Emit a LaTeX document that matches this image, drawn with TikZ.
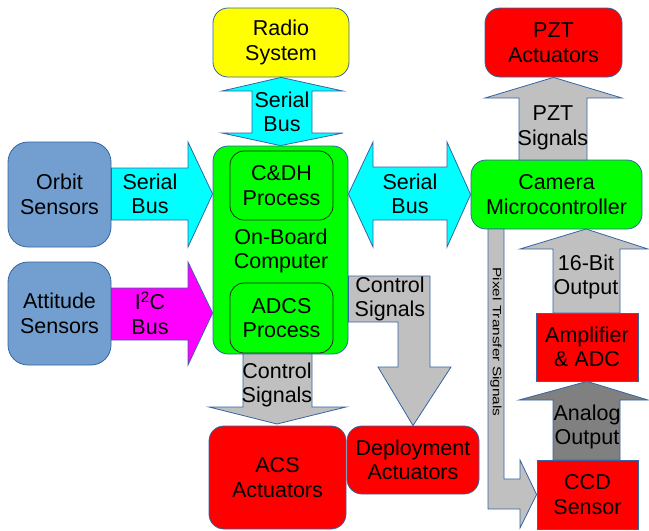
\documentclass[tikz,border=0pt]{standalone}
\usepackage{fontspec}
\setmainfont{Liberation Sans}
\definecolor{skyblue}{HTML}{729FCF}
\definecolor{edgeblue}{HTML}{3465A4}
\definecolor{busgreen}{HTML}{00FF00}
\definecolor{buscyan}{HTML}{00FFFF}
\definecolor{busmagenta}{HTML}{FF00FF}
\definecolor{boxred}{HTML}{FF0000}
\definecolor{boxyellow}{HTML}{FFFF00}
\definecolor{lightgray}{HTML}{C0C0C0}
\definecolor{darkgray}{HTML}{808080}
\begin{document}
\begin{tikzpicture}[x=1pt,y=-1pt,
    every node/.style={font=\fontsize{21.5}{24.5}\selectfont, align=center, inner sep=0pt},
    blk/.style={draw=edgeblue, line width=0.8pt, rounded corners=15pt},
    sharpblk/.style={draw=edgeblue, line width=0.8pt},
    inner/.style={draw=black!85, line width=0.8pt, rounded corners=14pt, fill=busgreen},
    flow/.style={draw=edgeblue, line width=0.8pt, line join=miter}]
  \useasboundingbox (0,0) rectangle (649,531);

  \node[blk, fill=boxyellow, minimum width=136pt, minimum height=69pt] (radio) at (281,42.5) {Radio\\System};
  \node[blk, fill=boxred, minimum width=137pt, minimum height=69pt] (pzt) at (553.5,42.5) {PZT\\Actuators};
  \node[blk, fill=skyblue, rounded corners=20pt, minimum width=103pt, minimum height=105pt] (orbit) at (59.5,194.5) {Orbit\\Sensors};
  \node[blk, fill=skyblue, rounded corners=20pt, minimum width=103pt, minimum height=103pt] (attitude) at (59.5,313.5) {Attitude\\Sensors};
  \node[blk, fill=busgreen, minimum width=135pt, minimum height=208pt] (obc) at (280.5,250) {};
  \node[inner, minimum width=103pt, minimum height=69pt] (cdh) at (281.5,185.5) {C\&DH\\Process};
  \node[inner, minimum width=103pt, minimum height=70pt] (adcs) at (281.5,318) {ADCS\\Process};
  \node (obctext) at (281,251) {On-Board\\Computer};
  \node[blk, fill=busgreen, minimum width=171pt, minimum height=69pt] (camera) at (556.5,194.5) {Camera\\Microcontroller};
  \node[sharpblk, fill=boxred, minimum width=102pt, minimum height=68pt] (amp) at (587,347) {Amplifier\\\& ADC};
  \node[sharpblk, fill=boxred, minimum width=101pt, minimum height=69pt] (ccd) at (587.5,494.5) {CCD\\Sensor};
  \node[blk, fill=boxred, minimum width=137pt, minimum height=103pt] (acs) at (277.5,477.5) {ACS\\Actuators};
  \node[blk, fill=boxred, minimum width=132pt, minimum height=68pt] (deploy) at (413,460) {Deployment\\Actuators};

  % buses into the on-board computer
  \draw[flow, fill=buscyan] (orbit.east |- 0,168) -- (188,168) -- (188,142) -- (obc.west |- 0,194)
    -- (188,247) -- (188,220) -- (orbit.east |- 0,220) -- cycle;
  \node (orbitbus) at (150,194) {Serial\\Bus};
  \draw[flow, fill=busmagenta] (attitude.east |- 0,288) -- (188,288) -- (188,262) -- (obc.west |- 0,313)
    -- (188,365) -- (188,340) -- (attitude.east |- 0,340) -- cycle;
  \node (i2cbus) at (150,313) {I\textsuperscript{2}C\\Bus};
  \draw[flow, fill=buscyan] (radio.south) -- (343,91) -- (312,91) -- (312,133) -- (343,133) -- (obc.north)
    -- (222,133) -- (252,133) -- (252,91) -- (222,91) -- cycle;
  \node (radiobus) at (282,112) {Serial\\Bus};
  \draw[flow, fill=buscyan] (obc.east |- 0,194) -- (373,142) -- (373,167) -- (447,167) -- (447,142)
    -- (camera.west) -- (447,247) -- (447,220) -- (373,220) -- (373,247) -- cycle;
  \node (camerabus) at (410,194) {Serial\\Bus};

  % control outputs
  \draw[flow, fill=lightgray] (obc.east |- 0,276) -- (430,276) -- (430,367) -- (451,367) -- (deploy.north)
    -- (378,367) -- (398,367) -- (398,322) -- (obc.east |- 0,322) -- cycle;
  \node (ctrlright) at (390,299) {Control\\Signals};
  \draw[flow, fill=lightgray] (243,354) -- (243,407) -- (209,407) -- (277,424) -- (346,407)
    -- (312,407) -- (312,354) -- cycle;
  \node (ctrldown) at (277,385) {Control\\Signals};

  % camera chain
  \draw[flow, fill=lightgray] (519,160) -- (519,98) -- (485,98) -- (pzt.south) -- (622,98)
    -- (587,98) -- (587,160) -- cycle;
  \node (pztsig) at (553,128) {PZT\\Signals};
  \draw[flow, fill=lightgray] (553,313) -- (553,249) -- (520,249) -- (586,229) -- (648,249)
    -- (620,249) -- (620,313) -- cycle;
  \node (bitout) at (586,277) {16-Bit\\Output};
  \draw[flow, fill=darkgray] (553,460) -- (553,400) -- (519,400) -- (amp.south) -- (648,400)
    -- (620,400) -- (620,460) -- cycle;
  \node (analogout) at (587,427) {Analog\\Output};
  \draw[flow, fill=lightgray] (488,229) -- (504,229) -- (504,479) -- (520,479) -- (520,460)
    -- (ccd.west) -- (520,528) -- (520,509) -- (488,509) -- cycle;
  \node[rotate=-90, font=\fontsize{12}{14}\selectfont] (pixel) at (496,342) {\scalebox{1.28}[1]{Pixel Transfer Signals}};
\end{tikzpicture}
\end{document}
